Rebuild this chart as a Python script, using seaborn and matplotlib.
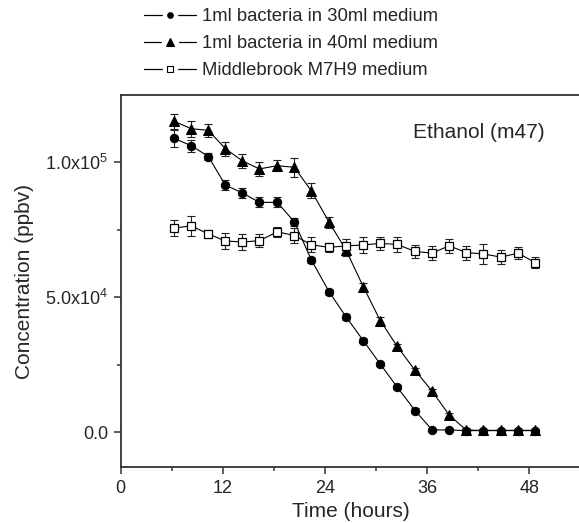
import matplotlib
matplotlib.use("Agg")
import numpy as np
import pandas as pd
import seaborn as sns
from matplotlib import pyplot as plt
from matplotlib.lines import Line2D

# time points (hours)
TIME = [6.3, 8.3, 10.3, 12.3, 14.3, 16.3, 18.4, 20.4, 22.4, 24.5, 26.5,
        28.5, 30.5, 32.5, 34.6, 36.6, 38.6, 40.6, 42.6, 44.7, 46.7, 48.7]

# 1ml bacteria in 30ml medium (circles)
C30 = [108900, 106200, 102200, 91600, 88700, 85200, 85200, 78000, 63900,
       52000, 42700, 34000, 25300, 16700, 8000, 850, 850, 600, 600, 600, 600, 600]
C30_ERR = [3000, 2300, 1200, 1800, 2000, 1900, 1900, 1500, 1200,
           1000, 1000, 900, 900, 800, 800, 500, 500, 400, 400, 400, 400, 400]

# 1ml bacteria in 40ml medium (triangles)
C40 = [115200, 112500, 111900, 105100, 100600, 97600, 98800, 98200, 89500,
       77800, 67400, 54000, 41400, 31800, 22900, 15200, 6400, 800, 700, 700, 700, 700]
C40_ERR = [2700, 3000, 2500, 2600, 2700, 2700, 2000, 3500, 2800,
           2100, 1900, 1200, 1200, 1000, 1000, 900, 900, 600, 500, 500, 500, 500]

# Middlebrook M7H9 medium (open squares)
M7H9 = [75700, 76500, 73500, 70900, 70500, 71000, 74300, 72900, 69500, 68500,
        69100, 69400, 70000, 69600, 67000, 66400, 69100, 66600, 66100, 64900,
        66400, 62900]
M7H9_ERR = [2800, 3700, 1600, 3000, 3000, 2400, 1900, 2700, 2800, 1700,
            2700, 2800, 2300, 2700, 2500, 2700, 2600, 2600, 3800, 2500,
            2200, 1900]

LABELS = ["1ml bacteria in 30ml medium", "1ml bacteria in 40ml medium",
          "Middlebrook M7H9 medium"]

W, H = 579, 523


def legend_handle(marker, ms, mfc):
    # plain line, a white blob to cut a gap, then the marker on top
    line = Line2D([0], [0], color="black", lw=0.9)
    gap = Line2D([0], [0], ls="none", marker="s", ms=ms + 6,
                 mfc="white", mec="white")
    mark = Line2D([0], [0], ls="none", marker=marker, ms=ms,
                  mfc=mfc, mec="black", mew=0.8)
    return (line, gap, mark)


def main():
    sns.set_style("ticks")
    plt.rcParams["font.family"] = ["Liberation Sans", "DejaVu Sans"]
    plt.rcParams["mathtext.fontset"] = "custom"
    plt.rcParams["mathtext.rm"] = "Liberation Sans"
    plt.rcParams["mathtext.default"] = "regular"

    fig = plt.figure(figsize=(W / 100, H / 100), dpi=100)
    ax = fig.add_axes([120.7 / W, 1 - 467.3 / H, 459.5 / W, 372.3 / H])

    series = [
        (C30, C30_ERR, dict(marker="o", ms=6, mfc="black", mec="black")),
        (C40, C40_ERR, dict(marker="^", ms=7, mfc="black", mec="black")),
        (M7H9, M7H9_ERR, dict(marker="s", ms=5.5, mfc="white", mec="black", mew=0.9)),
    ]
    order = [2, 0, 1]
    for i in order:
        vals, err, style = series[i]
        ax.errorbar(TIME, vals, yerr=err, fmt="none", ecolor="#222222",
                    elinewidth=0.8, capsize=2.6, capthick=0.8, zorder=2 + i)
        sns.lineplot(x=TIME, y=vals, ax=ax, color="black", linewidth=0.8,
                     zorder=3 + i, legend=False, **style)

    ax.set_xlim(0, 54)
    ax.set_ylim(-13000, 125000)
    ax.set_xticks([0, 12, 24, 36, 48])
    ax.set_xticks([6, 18, 30, 42], minor=True)
    ax.set_yticks([0, 50000, 100000])
    ax.set_yticks([25000, 75000], minor=True)
    ax.set_yticklabels(["0.0", "5.0x10$^{4}$", "1.0x10$^{5}$"])
    ax.tick_params(axis="both", which="major", length=5, width=1.1,
                   labelsize=13, color="#333333", pad=4)
    ax.tick_params(axis="both", which="minor", length=3, width=1.1,
                   color="#333333")
    for side in ["left", "bottom", "top"]:
        ax.spines[side].set_linewidth(1.3)
        ax.spines[side].set_color("#333333")
    ax.spines["right"].set_visible(False)

    ax.set_xlabel("Time (hours)", fontsize=15, labelpad=4)
    ax.set_ylabel("Concentration (ppbv)", fontsize=15, labelpad=8)

    fig.text(545 / W, 1 - 133 / H, "Ethanol (m47)", fontsize=15,
             ha="right", va="center")

    handles = [
        legend_handle("o", 4, "black"),
        legend_handle("^", 5.5, "black"),
        legend_handle("s", 4, "white"),
    ]
    fig.legend(handles, LABELS, loc="upper left",
               bbox_to_anchor=(144 / W, 1 - 8 / H), frameon=False,
               fontsize=13.3, handlelength=2.8, handletextpad=0.35,
               labelspacing=0.55, borderpad=0, borderaxespad=0)

    fig.savefig("out.png", dpi=100)


if __name__ == "__main__":
    main()
